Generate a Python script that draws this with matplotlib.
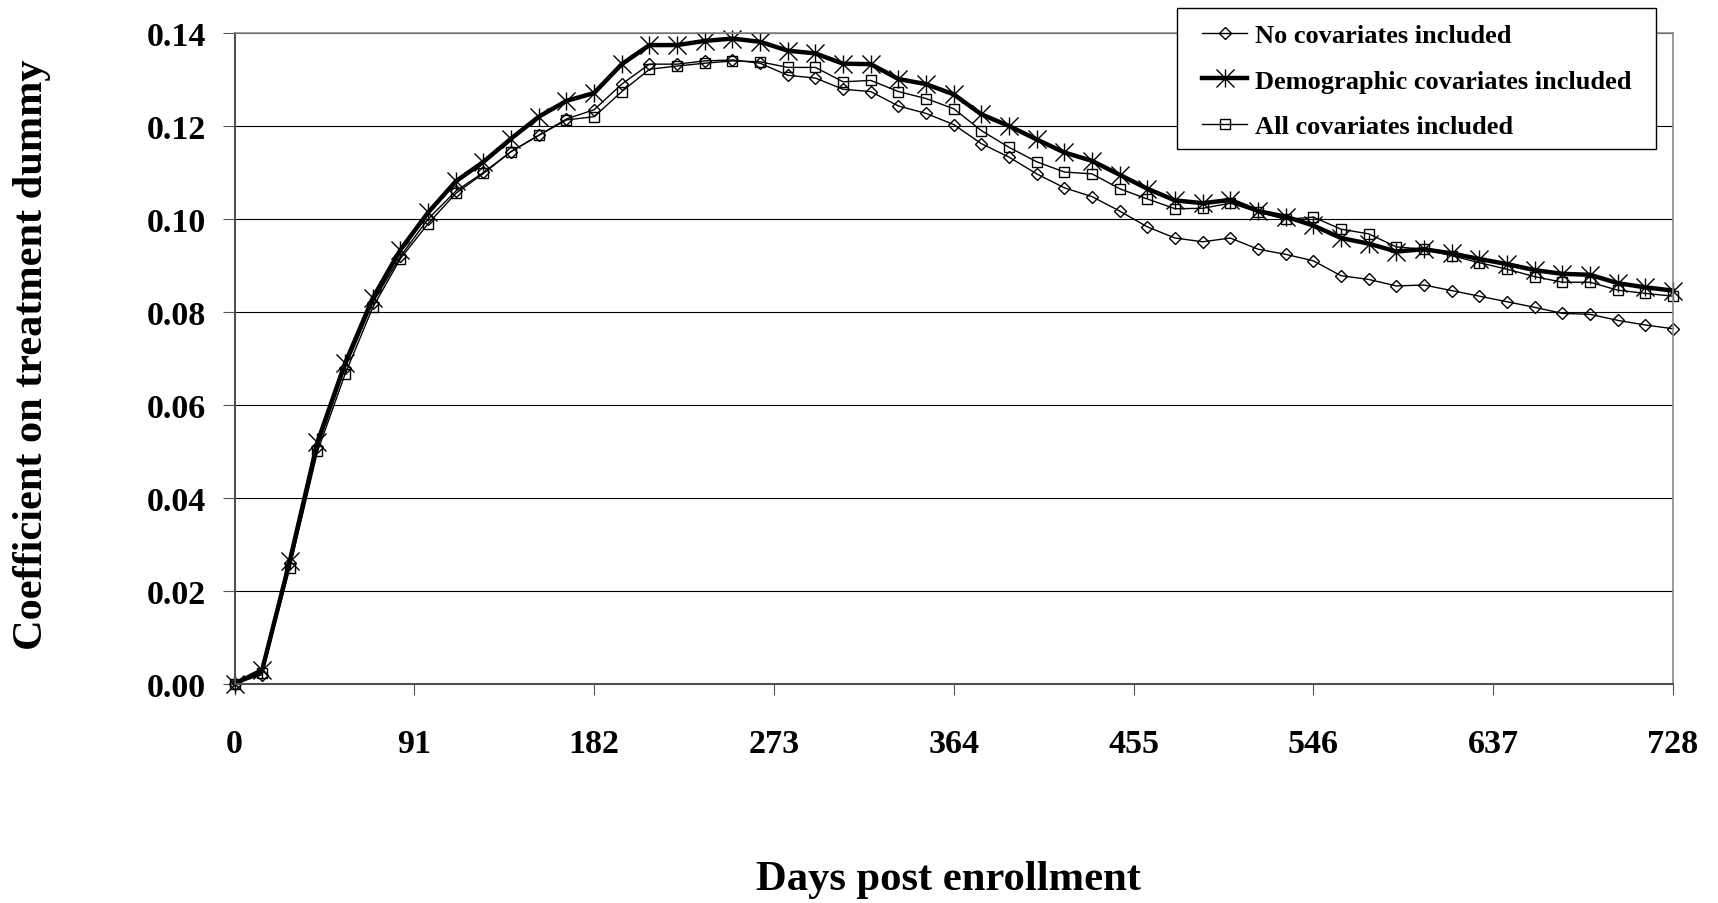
import matplotlib
matplotlib.use("Agg")
import matplotlib.pyplot as plt
from matplotlib.path import Path
from matplotlib.patches import Rectangle

# data (every 14 days)
days = [0, 14, 28, 42, 56, 70, 84, 98, 112, 126, 140, 154, 168, 182,
        196, 210, 224, 238, 252, 266, 280, 294, 308, 322, 336, 350, 364,
        378, 392, 406, 420, 434, 448, 462, 476, 490, 504, 518, 532, 546,
        560, 574, 588, 602, 616, 630, 644, 658, 672, 686, 700, 714, 728]

no_cov = [0.000, 0.002, 0.026, 0.051, 0.068, 0.082, 0.092, 0.100, 0.106, 0.110, 0.1145, 0.118, 0.1215, 0.1235,
          0.129, 0.1333, 0.1333, 0.1340, 0.1342, 0.1335, 0.1309, 0.1303, 0.1279, 0.1274, 0.1243, 0.1227, 0.1203,
          0.1162, 0.1133, 0.1097, 0.1067, 0.1048, 0.1017, 0.0983, 0.0959, 0.0951, 0.0959, 0.0935, 0.0924, 0.0910,
          0.0878, 0.0870, 0.0856, 0.0858, 0.0846, 0.0834, 0.0822, 0.0810, 0.0797, 0.0795, 0.0782, 0.0772, 0.0764]

demo_cov = [0.000, 0.003, 0.0265, 0.052, 0.069, 0.083, 0.0934, 0.1014, 0.1081, 0.1123, 0.1173, 0.1220, 0.1254, 0.1271,
            0.1333, 0.1374, 0.1374, 0.1383, 0.1388, 0.1381, 0.1362, 0.1356, 0.1334, 0.1333, 0.1301, 0.1290, 0.1268,
            0.1225, 0.1200, 0.1171, 0.1143, 0.1125, 0.1095, 0.1065, 0.1040, 0.1034, 0.1041, 0.1017, 0.1005, 0.0986,
            0.0959, 0.0947, 0.0930, 0.0935, 0.0926, 0.0914, 0.0903, 0.0890, 0.0882, 0.0880, 0.0862, 0.0853, 0.0846]

all_cov = [0.000, 0.0023, 0.025, 0.050, 0.0667, 0.081, 0.0915, 0.099, 0.1055, 0.1098, 0.1145, 0.118, 0.1213, 0.122,
           0.1274, 0.1322, 0.1329, 0.1335, 0.1340, 0.1338, 0.1326, 0.1326, 0.1295, 0.1298, 0.1274, 0.1259, 0.1237,
           0.1190, 0.1154, 0.1123, 0.1101, 0.1097, 0.1065, 0.1043, 0.1022, 0.1023, 0.1034, 0.1015, 0.0999, 0.1004,
           0.0978, 0.0968, 0.0940, 0.0935, 0.0921, 0.0906, 0.0892, 0.0876, 0.0864, 0.0864, 0.0847, 0.0840, 0.0834]

labels = ["No covariates included", "Demographic covariates included", "All covariates included"]
xticks = [0, 91, 182, 273, 364, 455, 546, 637, 728]
yticks = [0.00, 0.02, 0.04, 0.06, 0.08, 0.10, 0.12, 0.14]

plt.rcParams['font.family'] = ['Liberation Serif', 'DejaVu Serif']
plt.rcParams['font.weight'] = 'bold'

# excel style star: vertical bar + X
star = Path([(0, -1), (0, 1), (-1, -1), (1, 1), (-1, 1), (1, -1)],
            [Path.MOVETO, Path.LINETO, Path.MOVETO, Path.LINETO, Path.MOVETO, Path.LINETO])

fig = plt.figure(figsize=(17.18, 9.04), dpi=100)
ax = fig.add_axes([0.1365, 0.2423, 0.8373, 0.7201])

ax.plot(days, no_cov, color='black', lw=1.0, marker='D', ms=6, mfc='none', mec='black', mew=1.0,
        label=labels[0], clip_on=False)
ax.plot(days, demo_cov, color='black', lw=3.2, marker=star, ms=13, mec='black', mew=1.0,
        label=labels[1], clip_on=False)
ax.plot(days, all_cov, color='black', lw=1.0, marker='s', ms=6.5, mfc='none', mec='black', mew=1.0,
        label=labels[2], clip_on=False)

ax.set_xlim(0, 728)
ax.set_ylim(0, 0.14)
ax.set_xticks(xticks)
ax.set_yticks(yticks)
ax.set_yticklabels([f"{v:.2f}" for v in yticks])
ax.grid(axis='y', color='black', lw=0.8)
ax.set_axisbelow(True)

ax.tick_params(axis='x', direction='out', length=8, width=0.8, pad=24, labelsize=24.5, color='#555555')
ax.tick_params(axis='y', direction='out', length=8.5, width=0.8, pad=12, labelsize=24.5, color='#555555')
for lab in ax.get_xticklabels() + ax.get_yticklabels():
    lab.set_fontweight('bold')

for side in ['left', 'bottom']:
    ax.spines[side].set_color('#505050')
    ax.spines[side].set_linewidth(1.5)
for side in ['right', 'top']:
    ax.spines[side].set_color('#888888')
    ax.spines[side].set_linewidth(1.2)

fig.text(0.0185, 0.608, "Coefficient on treatment dummy", rotation=90, ha='center', va='center',
         fontsize=30.5, fontweight='bold')
fig.text(0.552, 0.026, "Days post enrollment", ha='center', va='center', fontsize=30.7, fontweight='bold')

# legend box drawn separately so the padding matches
ax.add_patch(Rectangle((0.6851, 0.8341), 0.2788, 0.156, transform=fig.transFigure, clip_on=False,
                       facecolor='white', edgecolor='black', lw=1.0, zorder=4))
leg = ax.legend(loc='upper left', bbox_to_anchor=(0.6997, 0.973), bbox_transform=fig.transFigure,
                borderaxespad=0, borderpad=0, frameon=False,
                prop={'size': 19, 'weight': 'bold'}, handlelength=1.7, handletextpad=0.3,
                labelspacing=0.84)
leg.set_zorder(5)

plt.savefig("out.png", dpi=100)
